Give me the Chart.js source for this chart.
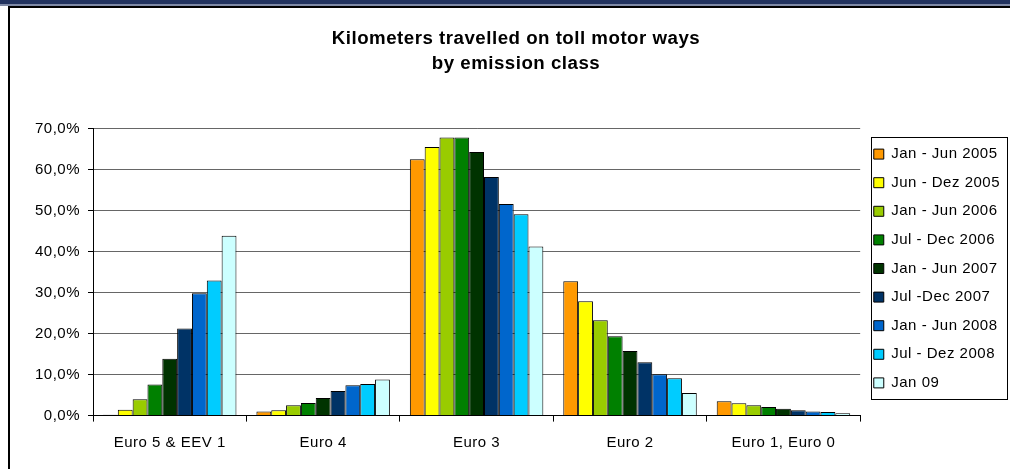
<!DOCTYPE html>
<html>
<head>
<meta charset="utf-8">
<script src="https://cdn.jsdelivr.net/npm/chart.js@4/dist/chart.umd.min.js"></script>
<style>
  html, body { margin: 0; padding: 0; background: #fff; }
  #wrap { position: relative; width: 1010px; height: 469px; overflow: hidden; background: #fff; }
  #band { position: absolute; left: 0; top: 0; width: 1010px; height: 4px; background: #22335f; }
  #band2 { position: absolute; left: 0; top: 4px; width: 1010px; height: 2px; background: #7f8aa6; }
  #frame { position: absolute; left: 8px; top: 6px; width: 1100px; height: 600px; border-left: 2px solid #000; border-top: 2px solid #000; }
  #c { position: absolute; left: 0; top: 0; }
</style>
</head>
<body>
<div id="wrap">
  <div id="band"></div>
  <div id="band2"></div>
  <div id="frame"></div>
  <canvas id="c" width="1010" height="469"></canvas>
</div>
<script>
const categories = ['Euro 5 & EEV 1', 'Euro 4', 'Euro 3', 'Euro 2', 'Euro 1, Euro 0'];
const seriesNames = ['Jan - Jun 2005', 'Jun - Dez 2005', 'Jan - Jun 2006', 'Jul - Dec 2006', 'Jan - Jun 2007', 'Jul -Dec 2007', 'Jan - Jun 2008', 'Jul - Dez 2008', 'Jan 09'];
const jan2005 = [0.2, 1.0, 62.6, 32.8, 3.5];
const jun2005 = [1.4, 1.3, 65.6, 27.9, 3.0];
const jan2006 = [4.0, 2.5, 67.9, 23.3, 2.5];
const jul2006 = [7.6, 3.1, 67.9, 19.4, 2.1];
const jan2007 = [13.9, 4.3, 64.4, 15.8, 1.7];
const jul2007 = [21.3, 6.0, 58.3, 13.0, 1.3];
const jan2008 = [29.9, 7.4, 51.7, 10.1, 1.0];
const jul2008 = [33.0, 7.7, 49.2, 9.1, 0.9];
const jan2009 = [43.9, 8.8, 41.3, 5.5, 0.6];
const seriesValues = [jan2005, jun2005, jan2006, jul2006, jan2007, jul2007, jan2008, jul2008, jan2009];
const seriesColors = ['#FF9900', '#FFFF00', '#99CC00', '#008000', '#003300', '#003366', '#0066CC', '#00CCFF', '#CCFFFF'];
const yTicks = [0, 10, 20, 30, 40, 50, 60, 70];
const titleLines = ['Kilometers travelled on toll motor ways', 'by emission class'];

const FONT = "'Liberation Sans', Arial, sans-serif";
const SPACING = '0.5px';

const letterSpacing = {
  id: 'letterSpacing',
  beforeUpdate(chart) { chart.ctx.letterSpacing = SPACING; },
  beforeLayout(chart) { chart.ctx.letterSpacing = SPACING; },
  beforeDraw(chart) { chart.ctx.letterSpacing = SPACING; }
};

const legendBorder = {
  id: 'legendBorder',
  afterDraw(chart) {
    const lg = chart.legend;
    const hb = lg && lg.legendHitBoxes;
    if (!hb || !hb.length) return;
    const ctx = chart.ctx;
    const top = Math.round(Math.min(...hb.map(h => h.top)) - 9.5) + 0.5;
    const bottom = Math.round(Math.max(...hb.map(h => h.top + h.height)) + 9) + 0.5;
    const left = Math.round(Math.min(...hb.map(h => h.left)) - 3) + 0.5;
    const right = 1007.5;
    ctx.save();
    ctx.strokeStyle = '#000';
    ctx.lineWidth = 1;
    ctx.strokeRect(left, top, right - left, bottom - top);
    ctx.restore();
  }
};

new Chart(document.getElementById('c'), {
  type: 'bar',
  data: {
    labels: categories,
    datasets: seriesValues.map((vals, i) => ({
      label: seriesNames[i],
      data: vals,
      backgroundColor: seriesColors[i],
      borderColor: '#000',
      borderWidth: 1,
      categoryPercentage: 0.87,
      barPercentage: 1.0
    }))
  },
  options: {
    responsive: false,
    devicePixelRatio: 1,
    animation: false,
    layout: { padding: { left: 22, right: 0, top: 0, bottom: 4 } },
    plugins: {
      title: {
        display: true,
        text: titleLines,
        color: '#000',
        font: { family: FONT, size: 18.7, weight: 'bold', lineHeight: 1.31 },
        padding: { top: 27, bottom: 53 }
      },
      legend: {
        position: 'right',
        fullSize: false,
        align: 'start',
        maxWidth: 150,
        title: {
          display: true,
          text: ' ',
          font: { family: FONT, size: 2, lineHeight: 1 },
          padding: { top: 1, bottom: 1 }
        },
        labels: {
          color: '#000',
          font: { family: FONT, size: 15 },
          boxWidth: 10,
          boxHeight: 10,
          padding: 13.6
        }
      },
      tooltip: { enabled: false }
    },
    scales: {
      x: {
        grid: { offset: true, drawOnChartArea: false, tickLength: 6, tickColor: '#000', color: '#000' },
        border: { color: '#000', width: 1 },
        ticks: { color: '#000', font: { family: FONT, size: 15 }, padding: 12.7, maxRotation: 0 }
      },
      y: {
        min: 0,
        max: 70,
        afterFit(scale) { scale.width = 71; },
        afterBuildTicks(scale) { scale.ticks = yTicks.map(v => ({ value: v })); },
        grid: { color: '#666', tickColor: '#000', tickLength: 5, lineWidth: 1 },
        border: { color: '#000', width: 1 },
        ticks: {
          color: '#000',
          font: { family: FONT, size: 15 },
          padding: 8,
          callback: v => v.toFixed(1).replace('.', ',') + '%'
        }
      }
    }
  },
  plugins: [letterSpacing, legendBorder]
});
</script>
</body>
</html>
